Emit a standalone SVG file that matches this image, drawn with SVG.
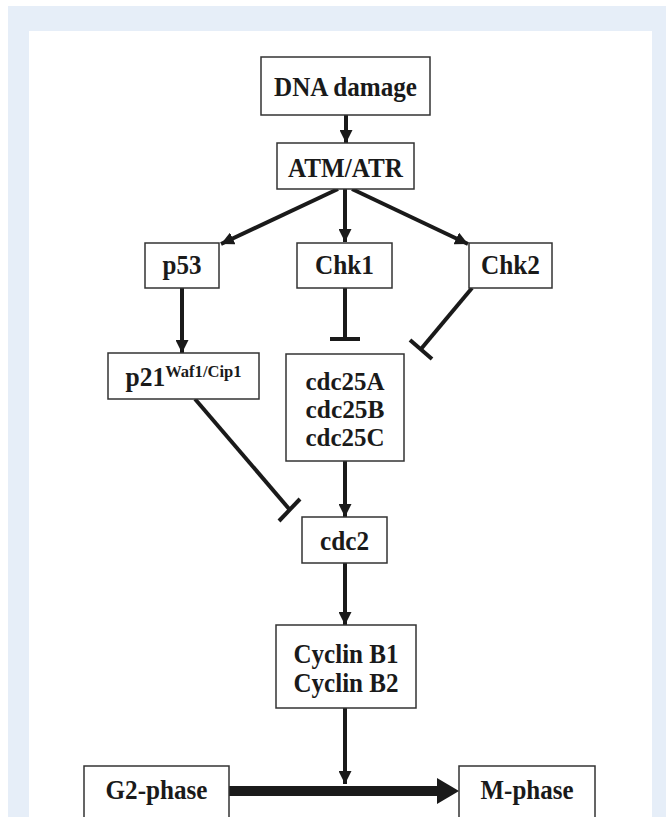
<svg xmlns="http://www.w3.org/2000/svg" width="666" height="817" viewBox="0 0 666 817">
<defs>
<style>
.box{fill:#fff;stroke:#333;stroke-width:1.5}
.t{font-family:"Liberation Serif","Times New Roman",serif;font-weight:bold;font-size:27px;fill:#1a1a1a;text-anchor:middle}
.s{font-size:25px}
.sup{font-size:17.5px}
.c{stroke:#1a1a1a;stroke-width:4;fill:none}
</style>
<marker id="ah" markerUnits="userSpaceOnUse" viewBox="0 0 13 13" markerWidth="13" markerHeight="13" refX="13" refY="6.5" orient="auto">
<path d="M0,0 L13,6.5 L0,13 z" fill="#1a1a1a"/>
</marker>
</defs>
<rect x="0" y="0" width="666" height="817" fill="#fff"/>
<rect x="8" y="6" width="658" height="811" fill="#e6eef8"/>
<rect x="29" y="31" width="623" height="786" fill="#fff"/>

<g id="connectors">
<line class="c" x1="346" y1="115" x2="346" y2="143" marker-end="url(#ah)"/>
<line class="c" x1="338" y1="189" x2="221" y2="244" marker-end="url(#ah)"/>
<line class="c" x1="345" y1="189" x2="345" y2="242" marker-end="url(#ah)"/>
<line class="c" x1="352" y1="189" x2="468" y2="244" marker-end="url(#ah)"/>
<line class="c" x1="182" y1="288" x2="182" y2="353" marker-end="url(#ah)"/>
<line class="c" x1="345" y1="288" x2="345" y2="339"/>
<line class="c" x1="330" y1="339" x2="360" y2="339"/>
<line class="c" x1="472" y1="288" x2="421" y2="349"/>
<line class="c" x1="410" y1="340" x2="432" y2="359"/>
<line class="c" x1="195" y1="399" x2="290" y2="510"/>
<line class="c" x1="279" y1="521" x2="300" y2="499"/>
<line class="c" x1="345" y1="461" x2="345" y2="517" marker-end="url(#ah)"/>
<line class="c" x1="345" y1="563" x2="345" y2="625" marker-end="url(#ah)"/>
<line class="c" x1="345" y1="708" x2="345" y2="784" marker-end="url(#ah)"/>
<line x1="229" y1="791" x2="440" y2="791" stroke="#1a1a1a" stroke-width="10"/>
<polygon points="437,778 459,791 437,804" fill="#1a1a1a"/>
</g>

<g id="dna-damage"><rect class="box" x="261" y="57" width="169" height="58"/><text class="t" x="345.5" y="96" textLength="143" lengthAdjust="spacingAndGlyphs">DNA damage</text></g>
<g id="atm-atr"><rect class="box" x="277" y="143" width="137" height="46"/><text class="t" x="345.5" y="176.5" textLength="115" lengthAdjust="spacingAndGlyphs">ATM/ATR</text></g>
<g id="p53"><rect class="box" x="145" y="243" width="74" height="45"/><text class="t" x="182" y="274" textLength="39" lengthAdjust="spacingAndGlyphs">p53</text></g>
<g id="chk1"><rect class="box" x="297" y="243" width="95" height="45"/><text class="t" x="344.5" y="274" textLength="59" lengthAdjust="spacingAndGlyphs">Chk1</text></g>
<g id="chk2"><rect class="box" x="469" y="243" width="83" height="45"/><text class="t" x="510.5" y="274" textLength="59" lengthAdjust="spacingAndGlyphs">Chk2</text></g>
<g id="p21"><rect class="box" x="108" y="353" width="151" height="46"/><text class="t" x="183.5" y="386" textLength="116" lengthAdjust="spacingAndGlyphs">p21<tspan class="sup" dy="-9">Waf1/Cip1</tspan></text></g>
<g id="cdc25"><rect class="box" x="286" y="354" width="118" height="107"/><text class="t s" x="345" y="390" textLength="79" lengthAdjust="spacingAndGlyphs">cdc25A</text><text class="t s" x="345" y="418" textLength="79" lengthAdjust="spacingAndGlyphs">cdc25B</text><text class="t s" x="345" y="446" textLength="79" lengthAdjust="spacingAndGlyphs">cdc25C</text></g>
<g id="cdc2"><rect class="box" x="302" y="517" width="85" height="46"/><text class="t" x="344.5" y="550" textLength="49" lengthAdjust="spacingAndGlyphs">cdc2</text></g>
<g id="cyclin"><rect class="box" x="276" y="625" width="140" height="83"/><text class="t" x="346" y="663" textLength="105" lengthAdjust="spacingAndGlyphs">Cyclin B1</text><text class="t" x="346" y="692" textLength="105" lengthAdjust="spacingAndGlyphs">Cyclin B2</text></g>
<g id="g2-phase"><rect class="box" x="84" y="766" width="145" height="70"/><text class="t" x="156.5" y="799" textLength="102" lengthAdjust="spacingAndGlyphs">G2-phase</text></g>
<g id="m-phase"><rect class="box" x="459" y="766" width="136" height="70"/><text class="t" x="527" y="799" textLength="93" lengthAdjust="spacingAndGlyphs">M-phase</text></g>
</svg>
